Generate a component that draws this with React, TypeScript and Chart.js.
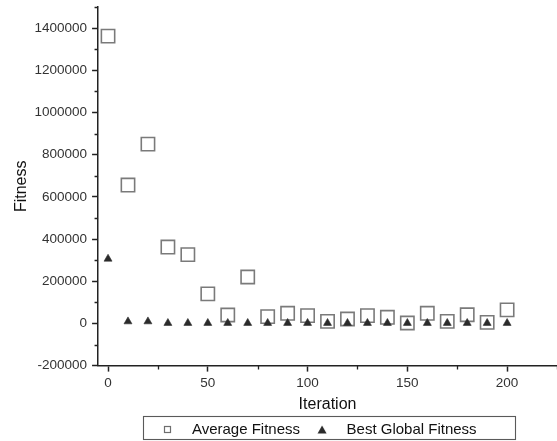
import React, { useEffect, useRef } from 'react';
import { Chart, registerables } from 'chart.js';

Chart.register(...registerables);

// ---- data ----
const iterations = [0, 10, 20, 30, 40, 50, 60, 70, 80, 90, 100, 110, 120, 130, 140, 150, 160, 170, 180, 190, 200];
const averageFitness = [1362000, 656000, 850000, 362000, 326000, 140000, 40000, 220000, 32000, 48000, 37000, 9500, 21000, 37000, 29000, 2000, 48000, 9500, 41000, 5000, 64000];
const bestGlobalFitness = [306000, 9000, 9000, 1500, 1500, 1500, 1500, 1500, 1500, 1500, 1500, 1500, 1500, 1500, 1500, 1500, 1500, 1500, 1500, 1500, 1500];
const seriesNames = ['Average Fitness', 'Best Global Fitness'];
const xTitle = 'Iteration';
const yTitle = 'Fitness';
const xTickValues = [0, 50, 100, 150, 200];
const xMinorTickValues = [25, 75, 125, 175, 225];
const yTickValues = [-200000, 0, 200000, 400000, 600000, 800000, 1000000, 1200000, 1400000];
const yMinorTickValues = [-100000, 100000, 300000, 500000, 700000, 900000, 1100000, 1300000, 1500000];
const xRange = [-5, 225];
const yRange = [-200000, 1500000];

const FONT = '"Liberation Sans", Arial, sans-serif';
const AXIS_COLOR = '#222';

function makeSquareIcon(): HTMLCanvasElement {
  const c = document.createElement('canvas');
  c.width = 9;
  c.height = 9;
  const g = c.getContext('2d')!;
  g.strokeStyle = '#6e6e6e';
  g.lineWidth = 1.2;
  g.strokeRect(1.5, 1.5, 6, 6);
  return c;
}

function makeTriangleIcon(): HTMLCanvasElement {
  const c = document.createElement('canvas');
  c.width = 10;
  c.height = 9;
  const g = c.getContext('2d')!;
  g.fillStyle = '#2b2b2b';
  g.beginPath();
  g.moveTo(5, 0.5);
  g.lineTo(9.5, 8.5);
  g.lineTo(0.5, 8.5);
  g.closePath();
  g.fill();
  return c;
}

const minorTicksPlugin = {
  id: 'minorTicks',
  afterDraw(chart: any) {
    const { ctx, chartArea, scales } = chart;
    ctx.save();
    ctx.strokeStyle = AXIS_COLOR;
    ctx.lineWidth = 1.3;
    ctx.beginPath();
    yMinorTickValues.forEach((v) => {
      const py = Math.round(scales.y.getPixelForValue(v)) + 0.5;
      ctx.moveTo(chartArea.left - 3.5, py);
      ctx.lineTo(chartArea.left, py);
    });
    xMinorTickValues.forEach((v) => {
      const px = Math.round(scales.x.getPixelForValue(v)) + 0.5;
      ctx.moveTo(px, chartArea.bottom);
      ctx.lineTo(px, chartArea.bottom + 4);
    });
    ctx.stroke();
    ctx.restore();
  },
};

const legendFramePlugin = {
  id: 'legendFrame',
  afterLayout(chart: any) {
    const lg = chart.legend;
    if (!lg) return;
    const w = lg.right - lg.left;
    const center = chart.chartArea.left + chart.chartArea.width / 2 - 14;
    lg.left = center - w / 2;
    lg.right = center + w / 2;
  },
  afterDraw(chart: any) {
    const lg = chart.legend;
    if (!lg || !lg.legendHitBoxes || !lg.legendHitBoxes.length) return;
    const hb = lg.legendHitBoxes;
    const first = hb[0];
    const last = hb[hb.length - 1];
    const pad = lg.options.labels.padding;
    const cy = lg.top + pad + 7.5;
    const left = Math.round(first.left - 7) + 0.5;
    const right = Math.round(last.left + last.width + 38) + 0.5;
    const top = Math.round(cy - 14) + 0.5;
    const bottom = Math.round(cy + 9) + 0.5;
    const { ctx } = chart;
    ctx.save();
    ctx.strokeStyle = '#5a5a5a';
    ctx.lineWidth = 1.1;
    ctx.strokeRect(left, top, right - left, bottom - top);
    ctx.restore();
  },
};

export default function App() {
  const canvasRef = useRef<HTMLCanvasElement | null>(null);

  useEffect(() => {
    document.body.style.margin = '0';
    const canvas = canvasRef.current;
    if (!canvas) return;
    const squareIcon = makeSquareIcon();
    const triangleIcon = makeTriangleIcon();
    const icons = [squareIcon, triangleIcon];

    const chart = new Chart(canvas, {
      type: 'scatter',
      data: {
        datasets: [
          {
            label: seriesNames[0],
            data: iterations.map((x, i) => ({ x, y: averageFitness[i] })),
            pointStyle: 'rect',
            pointRadius: 9.4,
            pointHoverRadius: 9.4,
            borderColor: '#7a7a7a',
            backgroundColor: 'rgba(255,255,255,0)',
            borderWidth: 1.6,
            showLine: false,
            order: 1,
          },
          {
            label: seriesNames[1],
            data: iterations.map((x, i) => ({ x, y: bestGlobalFitness[i] })),
            pointStyle: 'triangle',
            pointRadius: 4.6,
            pointHoverRadius: 4.6,
            borderColor: '#2b2b2b',
            backgroundColor: '#2b2b2b',
            borderWidth: 0.6,
            showLine: false,
            order: 0,
          },
        ],
      },
      options: {
        responsive: false,
        animation: false,
        events: [],
        layout: { autoPadding: false, padding: { left: 6.3, top: 7, right: 0, bottom: -6 } },
        plugins: {
          tooltip: { enabled: false },
          legend: {
            display: true,
            position: 'bottom',
            labels: {
              usePointStyle: true,
              pointStyleWidth: 34,
              padding: 5,
              color: '#111',
              font: { family: FONT, size: 15 },
              generateLabels: (c: any) =>
                c.data.datasets.map((ds: any, i: number) => ({
                  text: ds.label,
                  pointStyle: icons[i],
                  fillStyle: 'transparent',
                  strokeStyle: 'transparent',
                  lineWidth: 0,
                  hidden: false,
                  datasetIndex: i,
                  fontColor: '#111',
                })),
            },
          },
        },
        scales: {
          x: {
            type: 'linear',
            min: xRange[0],
            max: xRange[1],
            afterBuildTicks: (scale: any) => {
              scale.ticks = xTickValues.map((v) => ({ value: v }));
            },
            afterFit: (scale: any) => {
              scale.paddingLeft = 0;
              scale.paddingRight = 0;
            },
            ticks: {
              color: '#333',
              font: { family: FONT, size: 13.5 },
              padding: 4,
              callback: (v: any) => String(v),
            },
            grid: {
              drawOnChartArea: false,
              drawTicks: true,
              tickLength: 6,
              tickColor: AXIS_COLOR,
              tickWidth: 1.5,
            },
            border: { display: true, color: AXIS_COLOR, width: 1.5 },
            title: {
              display: true,
              text: xTitle,
              color: '#111',
              font: { family: FONT, size: 16, lineHeight: 1 },
              padding: { top: 0.6, bottom: 4.6 },
            },
          },
          y: {
            type: 'linear',
            min: yRange[0],
            max: yRange[1],
            afterBuildTicks: (scale: any) => {
              scale.ticks = yTickValues.map((v) => ({ value: v }));
            },
            afterFit: (scale: any) => {
              scale.paddingTop = 0;
            },
            ticks: {
              color: '#333',
              font: { family: FONT, size: 13.5 },
              padding: 5,
              callback: (v: any) => String(v),
            },
            grid: {
              drawOnChartArea: false,
              drawTicks: true,
              tickLength: 6,
              tickColor: AXIS_COLOR,
              tickWidth: 1.5,
            },
            border: { display: true, color: AXIS_COLOR, width: 1.5 },
            title: {
              display: true,
              text: yTitle,
              color: '#111',
              font: { family: FONT, size: 16 },
              padding: { top: 6, bottom: -2 },
            },
          },
        },
      },
      plugins: [minorTicksPlugin, legendFramePlugin],
    } as any);

    return () => {
      chart.destroy();
    };
  }, []);

  return (
    <div style={{ position: 'absolute', left: 0, top: 0, width: 557, height: 441, background: '#fff' }}>
      <canvas ref={canvasRef} width={557} height={441} style={{ display: 'block', width: 557, height: 441 }} />
    </div>
  );
}
